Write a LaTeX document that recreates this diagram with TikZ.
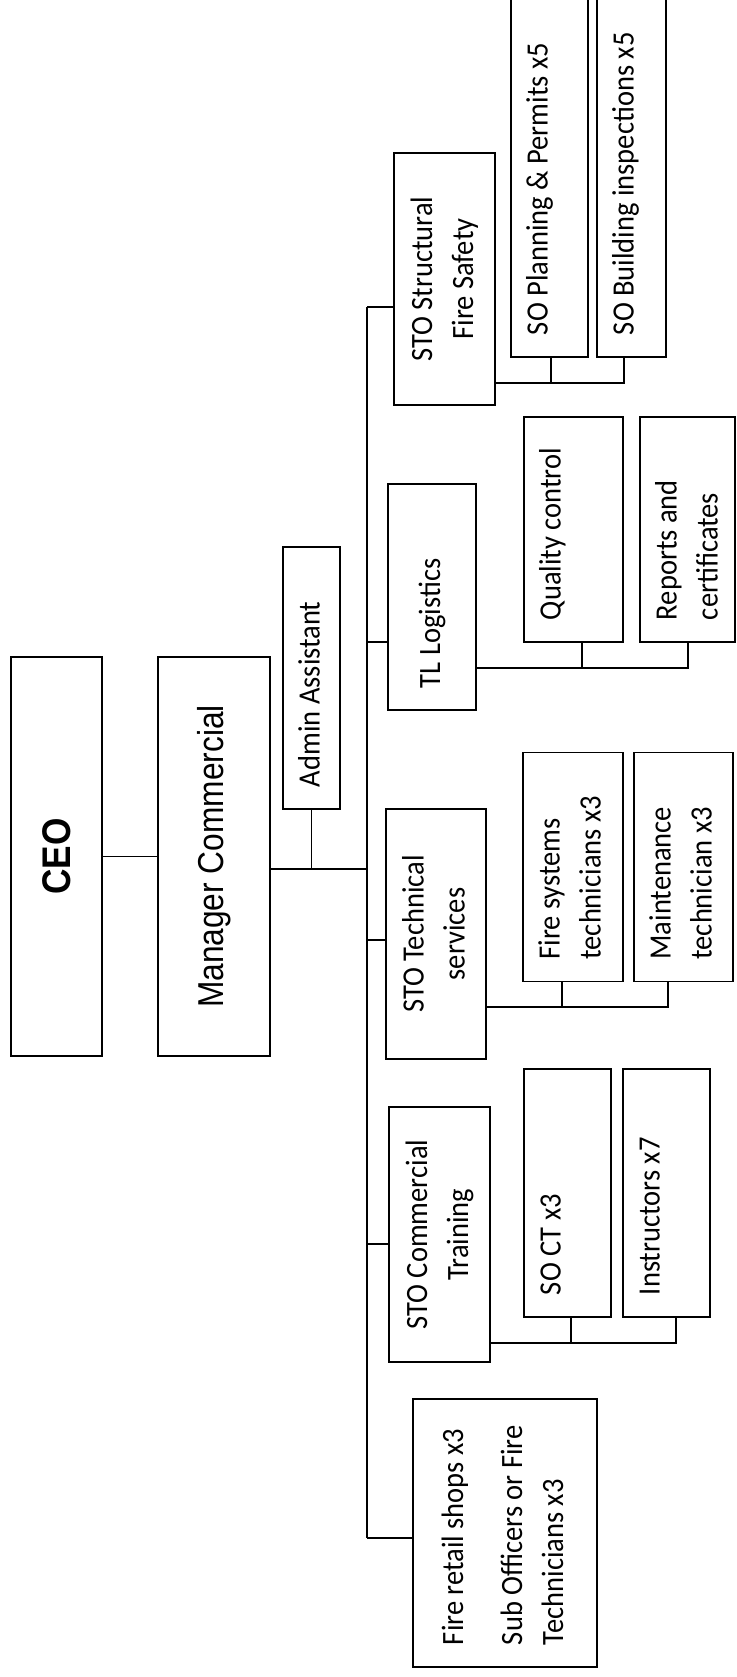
\documentclass[tikz,border=0pt]{standalone}
\usepackage{graphicx}
\usepackage{fontspec}
\setmainfont{Carlito}[FakeStretch=0.92]
\newfontfamily\headfont{Liberation Sans}[FakeStretch=0.88]
\usetikzlibrary{calc}

% rotated text block: #1 inner position (t/c), #2 length, #3 thickness, #4 text
\newcommand{\rottext}[4]{\rotatebox{90}{\parbox[c][#3][#1]{#2}{#4}}}
\newcommand{\lft}{\raggedright\leftskip=22pt\relax}
\newcommand{\topgap}{\vspace*{8pt}}

\begin{document}
\begin{tikzpicture}[
    x=1pt, y=-1pt,
    font=\fontsize{31pt}{41pt}\selectfont,
    post/.style={draw, line width=1.7pt, inner sep=0pt},
    link/.style={draw, line width=1.3pt}
  ]
  \useasboundingbox (0,0) rectangle (736,1677);
  \clip (0,0) rectangle (736,1677);

  % head of the chart
  \node (ceo) [post] at (56.5,856.5) {\rottext{c}{399pt}{91pt}{\centering\headfont\fontsize{40pt}{48pt}\selectfont\bfseries CEO}};
  \node (mgr) [post] at (214,856.5) {\rottext{c}{399pt}{112pt}{\centering\headfont\fontsize{36pt}{44pt}\selectfont Manager Commercial}};
  \node (admin) [post] at (311.5,678) {\rottext{t}{262pt}{57pt}{\lft\topgap\strut Admin Assistant\strut}};

  % sections
  \node (ssf) [post] at (444.5,279) {\rottext{c}{252pt}{101pt}{\centering\strut STO Structural\\Fire Safety\strut}};
  \node (tl) [post] at (432,597) {\rottext{c}{226pt}{88pt}{\lft\strut TL Logistics\strut}};
  \node (sts) [post] at (436,934) {\rottext{c}{250pt}{100pt}{\centering\strut STO Technical\\services\strut}};
  \node (sct) [post] at (439.5,1234.5) {\rottext{c}{255pt}{101pt}{\centering\strut STO Commercial\\Training\strut}};
  \node (retail) [post] at (505,1533) {\rottext{c}{268pt}{184pt}{\lft\strut Fire retail shops x3\\[18pt]Sub Officers or Fire\\Technicians x3\strut}};

  % staff
  \node (sopp) [post] at (549.5,177) {\rottext{t}{360pt}{77pt}{\lft\topgap\strut SO Planning \& Permits x5\strut}};
  \node (sobi) [post] at (631.5,177) {\rottext{t}{360pt}{69pt}{\lft\topgap\strut SO Building inspections x5\strut}};
  \node (qc) [post] at (573.5,529.5) {\rottext{t}{225pt}{99pt}{\lft\topgap\strut Quality control\strut}};
  \node (rc) [post] at (687.5,529.5) {\rottext{t}{225pt}{95pt}{\lft\topgap\strut Reports and\\certificates\strut}};
  \node (fst) [post] at (573,867) {\rottext{t}{229pt}{100pt}{\lft\topgap\strut Fire systems\\technicians x3\strut}};
  \node (mt) [post] at (683.5,867) {\rottext{t}{229pt}{99pt}{\lft\topgap\strut Maintenance\\technician x3\strut}};
  \node (soct) [post] at (567.5,1193) {\rottext{t}{248pt}{87pt}{\lft\topgap\strut SO CT x3\strut}};
  \node (ins) [post] at (666.5,1193) {\rottext{t}{248pt}{87pt}{\lft\topgap\strut Instructors x7\strut}};

  % head links
  \coordinate (hub) at (367,869);
  \draw[link] (ceo) -- (mgr);
  \draw[link] (mgr.east |- hub) -- (hub);
  \draw[link] (admin.south) -- (admin.south |- hub);

  % trunk and branches
  \foreach \n/\y in {ssf/307, tl/642, sts/940, sct/1244, retail/1538}
    \draw[link] (367,\y) coordinate (tr-\n) -- (tr-\n -| \n.west);
  \draw[link] (tr-ssf) -- (tr-retail);

  % staff buses
  \coordinate (ssf-bus) at ([yshift=23pt]ssf.south east);
  \coordinate (tl-bus) at ([yshift=43pt]tl.south east);
  \coordinate (sts-bus) at ([yshift=53pt]sts.south east);
  \coordinate (sct-bus) at ([yshift=20pt]sct.south east);
  \foreach \p/\c/\d in {ssf/sopp/1.5, ssf/sobi/-7.5, tl/qc/8.5, tl/rc/0.5,
                        sts/fst/-11, sts/mt/-15.5, sct/soct/3.5, sct/ins/9.5}
    \draw[link] (\p-bus) -| ([xshift=\d pt]\c.south);
\end{tikzpicture}
\end{document}
